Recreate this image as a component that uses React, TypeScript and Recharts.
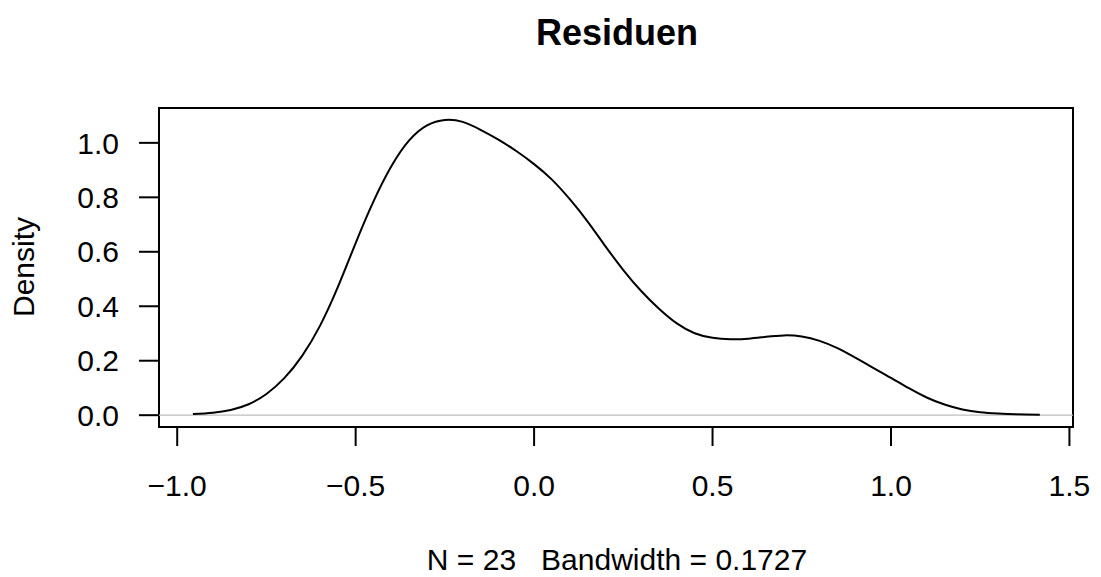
import React from 'react';
import { LineChart, Line, XAxis, YAxis, ReferenceLine, ReferenceArea } from 'recharts';

// density estimate
const xValues = [
  -0.956, -0.9, -0.85, -0.8, -0.75, -0.7, -0.65, -0.6, -0.55, -0.5, -0.45, -0.4, -0.35, -0.3, -0.25,
  -0.2, -0.15, -0.1, -0.05, 0.0, 0.05, 0.1, 0.15, 0.2, 0.25, 0.3, 0.35, 0.4, 0.45, 0.5, 0.55, 0.6,
  0.65, 0.7, 0.75, 0.8, 0.85, 0.9, 0.95, 1.0, 1.05, 1.1, 1.15, 1.2, 1.25, 1.3, 1.35, 1.417,
];
const densityValues = [
  0.004, 0.009, 0.019, 0.04, 0.078, 0.136, 0.218, 0.328, 0.47, 0.632, 0.785, 0.914, 1.009, 1.064, 1.084,
  1.077, 1.048, 1.012, 0.97, 0.922, 0.865, 0.793, 0.711, 0.62, 0.533, 0.456, 0.391, 0.337, 0.301, 0.284,
  0.279, 0.281, 0.288, 0.293, 0.289, 0.273, 0.246, 0.211, 0.174, 0.137, 0.099, 0.065, 0.039, 0.021,
  0.011, 0.006, 0.003, 0.002,
];
const xTicks = [-1.0, -0.5, 0.0, 0.5, 1.0, 1.5];
const yTicks = [0.0, 0.2, 0.4, 0.6, 0.8, 1.0];

const xDomain: [number, number] = [-1.051, 1.51];
const yDomain: [number, number] = [-0.0434, 1.128];

const font = '"Liberation Sans", Arial, Helvetica, sans-serif';

const fmt = (v: number) => (v < 0 ? '\u2212' + Math.abs(v).toFixed(1) : v.toFixed(1));

export default function App() {
  const data = xValues.map((x, i) => ({ x, density: densityValues[i] }));

  return (
    <div style={{ position: 'absolute', left: 0, top: 0, width: 1101, height: 577, background: '#fff' }}>
      <LineChart width={1101} height={577} data={data} margin={{ top: 108, right: 28, bottom: 0, left: 0 }}>
        <XAxis
          dataKey="x"
          type="number"
          domain={xDomain}
          ticks={xTicks}
          allowDataOverflow
          height={150}
          tickSize={19}
          tickMargin={29}
          axisLine={false}
          tickLine={{ stroke: '#000', strokeWidth: 2 }}
          tick={{ fontSize: 30, fill: '#000', fontFamily: font }}
          tickFormatter={fmt}
          interval={0}
        />
        <YAxis
          type="number"
          domain={yDomain}
          ticks={yTicks}
          allowDataOverflow
          width={159}
          tickSize={20}
          tickMargin={20}
          axisLine={false}
          tickLine={{ stroke: '#000', strokeWidth: 2 }}
          tick={{ fontSize: 30, fill: '#000', fontFamily: font }}
          tickFormatter={fmt}
          interval={0}
        />
        <ReferenceLine y={0} stroke="#bebebe" strokeWidth={1.3} />
        <Line
          type="natural"
          dataKey="density"
          stroke="#000"
          strokeWidth={2}
          dot={false}
          activeDot={false}
          isAnimationActive={false}
        />
        <ReferenceArea
          x1={xDomain[0]}
          x2={xDomain[1]}
          y1={yDomain[0]}
          y2={yDomain[1]}
          fill="none"
          fillOpacity={0}
          stroke="#000"
          strokeWidth={2}
          ifOverflow="visible"
        />
      </LineChart>
      <svg
        width={1101}
        height={577}
        style={{ position: 'absolute', left: 0, top: 0, pointerEvents: 'none' }}
        fontFamily={font}
      >
        <text x={617} y={45} textAnchor="middle" fontSize={36} fontWeight="bold" fill="#000">
          Residuen
        </text>
        <text x={34} y={267} textAnchor="middle" fontSize={30} fill="#000" transform="rotate(-90 34 267)">
          Density
        </text>
        <text x={617} y={570} textAnchor="middle" fontSize={30} fill="#000" xmlSpace="preserve">
          {'N = 23   Bandwidth = 0.1727'}
        </text>
      </svg>
    </div>
  );
}
